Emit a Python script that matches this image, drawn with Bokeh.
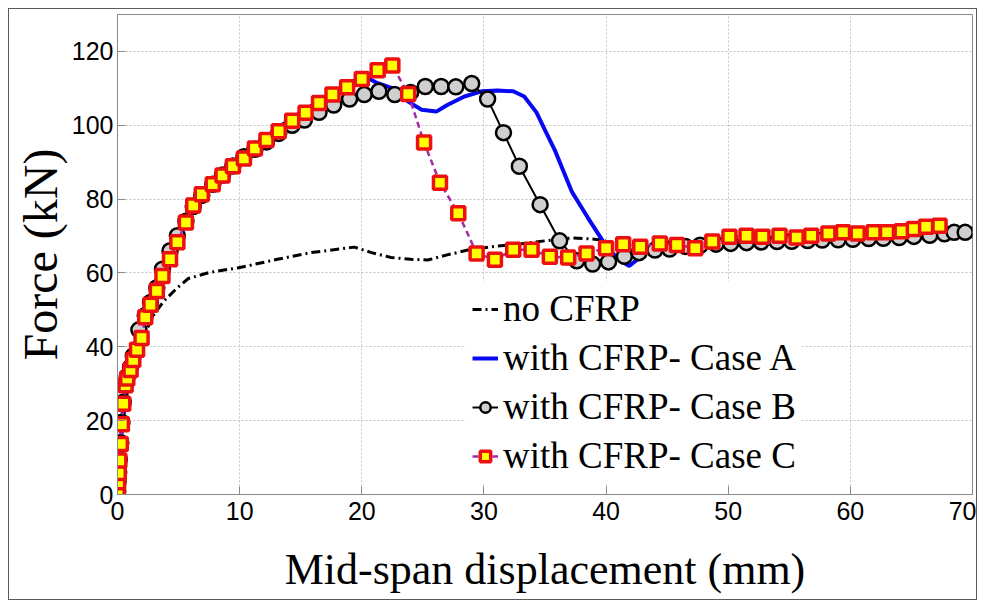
from bokeh.plotting import figure
from bokeh.models import Range1d, FixedTicker, Legend, LegendItem
from bokeh.embed import file_html
from bokeh.resources import INLINE

# ---------------- data ----------------
x_ticks = [0, 10, 20, 30, 40, 50, 60, 70]
y_ticks = [0, 20, 40, 60, 80, 100, 120]

no_cfrp_x = [0, 0.3, 0.7, 1.07, 1.48, 1.9, 2.44, 2.98, 3.8, 4.9, 5.8, 7.6, 9.9, 13.1, 15.8,
             19.4, 20.8, 22.4, 24.0, 25.4, 27.0, 28.7, 30.6, 32.8, 35.0, 37.2, 38.8, 40.0]
no_cfrp_y = [0, 15, 26, 31.4, 36, 40.5, 45, 48.7, 52.4, 56, 58.5, 60.2, 61.4, 63.7, 65.5,
             67.0, 65.5, 64.2, 63.7, 63.5, 64.9, 66.2, 67.1, 67.8, 68.7, 69.5, 69.2, 68.8]

case_a_x = [0, 0.1, 0.27, 0.47, 0.8, 1.29, 1.97, 2.7, 3.68, 4.9, 6.2, 7.8, 9.45, 11.25, 13.2,
            15.0, 17.0, 19.0, 20.2, 21.3, 22.9, 23.8, 24.9, 26.1, 27.0, 28.4, 29.8, 31.1, 32.4,
            33.3, 34.3, 35.0, 35.8, 37.2, 38.5, 39.9, 41.0, 41.9, 43.1, 44.0, 46.0, 50.0, 55.0,
            60.0, 65.0, 69.0]
case_a_y = [0, 6, 14, 25, 32, 37, 43.5, 52, 60, 69, 78.5, 84.5, 89.5, 94.5, 99.5,
            103.5, 107.5, 111.5, 113.3, 111.4, 109.6, 106.4, 104.2, 103.7, 105.5, 107.8, 109.2, 109.4, 109.2,
            107.8, 103.5, 98.7, 93.3, 82.0, 75.0, 67.8, 63.7, 61.9, 65.1, 66.8, 67.0, 68.0, 68.8,
            69.5, 70.3, 71.0]

case_b_x = [0, 0.02, 0.05, 0.1, 0.15, 0.27, 0.36, 0.47, 0.66, 0.8, 1.07, 1.29, 1.75, 2.27, 2.7,
            3.22, 3.68, 4.3, 4.9, 5.6, 6.2, 6.9, 7.8, 8.6, 9.45, 10.35, 11.25, 12.2, 13.2, 14.3,
            15.3, 16.5, 17.7, 19.0, 20.2, 21.4, 22.7, 24.0, 25.2, 26.5, 27.7, 29.0, 30.3, 31.6,
            32.9, 34.6, 36.2, 37.6, 38.9, 40.2, 41.5, 42.7, 44.0, 45.2, 46.5, 47.7, 49.0, 50.2,
            51.5, 52.7, 54.0, 55.2, 56.5, 57.7, 59.0, 60.2, 61.5, 62.7, 64.0, 65.2, 66.5, 67.7,
            68.5, 69.4]
case_b_y = [0, 1.0, 3.5, 6, 9.5, 14, 19.5, 25, 30, 32, 34.5, 37.5, 44.6, 48.5, 52,
            56, 61, 66, 70.1, 74, 78, 81, 84, 86.5, 89, 91.5, 93.5, 95.5, 97.8, 100,
            101.4, 103.5, 105.5, 107.1, 108.3, 109.2, 108.3, 108.9, 110.5, 110.5, 110.4, 111.3, 107.1, 98.0,
            88.9, 78.5, 68.7, 63.3, 62.4, 63.0, 64.5, 65.5, 66.2, 66.5, 67.2, 67.5, 67.8, 68.0,
            68.2, 68.4, 68.5, 68.6, 68.8, 68.9, 69.0, 69.1, 69.3, 69.4, 69.6, 69.9, 70.2, 70.6,
            71.0, 71.0]

case_c_x = [0, 0.02, 0.05, 0.1, 0.15, 0.27, 0.36, 0.47, 0.66, 0.8, 1.07, 1.29, 1.6, 1.97, 2.27,
            2.7, 3.22, 3.68, 4.3, 4.9, 5.6, 6.2, 6.9, 7.8, 8.6, 9.45, 10.35, 11.25, 12.2, 13.2,
            14.3, 15.4, 16.5, 17.6, 18.8, 20.0, 21.3, 22.5, 23.8, 25.1, 26.4, 27.9, 29.4, 30.9,
            32.4, 33.9, 35.4, 36.9, 38.4, 40.0, 41.4, 42.8, 44.4, 45.8, 47.3, 48.7, 50.1, 51.5,
            52.8, 54.2, 55.6, 56.8, 58.2, 59.4, 60.6, 61.9, 63.0, 64.2, 65.2, 66.2, 67.3]
case_c_y = [0, 1.0, 3.3, 5.8, 9.2, 13.7, 19.0, 24.6, 29.6, 31.4, 33.7, 36.4, 39.2, 42.4, 48.0,
            51.4, 55.1, 59.2, 63.7, 68.3, 73.7, 78.3, 81.3, 84.0, 86.4, 88.9, 91.0, 93.7, 96.0, 98.4,
            101.2, 103.4, 106.0, 108.3, 110.3, 112.5, 114.9, 116.2, 108.5, 95.3, 84.4, 76.2, 65.3, 63.6,
            66.3, 66.3, 64.4, 64.2, 65.3, 66.7, 67.8, 67.1, 68.0, 67.6, 66.7, 68.5, 69.8, 70.1,
            69.8, 70.1, 69.6, 70.1, 70.7, 71.0, 70.7, 71.0, 71.0, 71.3, 71.9, 72.5, 72.8]

series_labels = ["no CFRP", "with CFRP- Case A", "with CFRP- Case B", "with CFRP- Case C"]

# ---------------- figure ----------------
p = figure(width=967, height=590, x_range=Range1d(0, 70), y_range=Range1d(0, 130),
           output_backend="svg", toolbar_location=None,
           min_border_left=108, min_border_right=6, min_border_top=5, min_border_bottom=107)
p.styles = {"margin-left": "8px", "margin-top": "8px",
            "border": "1px solid #5a5a5a", "box-sizing": "content-box"}
p.background_fill_color = "white"
p.border_fill_color = "white"
p.outline_line_color = "#8a8a8a"
p.outline_line_width = 1

for ax in (p.xaxis[0], p.yaxis[0]):
    ax.axis_line_color = "#8a8a8a"
    ax.major_tick_line_color = "#8a8a8a"
    ax.major_tick_in = 8
    ax.major_tick_out = 0
    ax.minor_tick_line_color = None
    ax.major_label_text_font = "Liberation Sans"
    ax.major_label_text_font_size = "25px"
    ax.major_label_text_color = "black"
    ax.axis_label_text_font = "Liberation Serif"
    ax.axis_label_text_font_style = "normal"
    ax.axis_label_text_color = "black"

p.xaxis[0].ticker = FixedTicker(ticks=x_ticks)
p.yaxis[0].ticker = FixedTicker(ticks=y_ticks)
p.xaxis[0].axis_label = "Mid-span displacement (mm)"
p.yaxis[0].axis_label = "Force (kN)"
p.xaxis[0].axis_label_text_font_size = "44px"
p.yaxis[0].axis_label_text_font_size = "48px"
p.xaxis[0].major_label_standoff = 7
p.yaxis[0].major_label_standoff = 4
p.xaxis[0].axis_label_standoff = 22
p.yaxis[0].axis_label_standoff = 2

for g in (p.xgrid[0], p.ygrid[0]):
    g.grid_line_color = "#c4c4c4"
    g.grid_line_dash = "2 2"
    g.grid_line_width = 1
p.xgrid[0].ticker = FixedTicker(ticks=x_ticks)
p.ygrid[0].ticker = FixedTicker(ticks=y_ticks)

# ---------------- series ----------------
r0 = p.line(no_cfrp_x, no_cfrp_y, line_color="black", line_width=3, line_dash="9 4 2 4")
r1 = p.line(case_a_x, case_a_y, line_color="#0808f2", line_width=4)
r2l = p.line(case_b_x, case_b_y, line_color="black", line_width=2)
r2m = p.scatter(case_b_x, case_b_y, marker="circle", size=15, fill_color="#cfcfcf",
                line_color="black", line_width=2.5)
r3l = p.line(case_c_x, case_c_y, line_color="#a52aa5", line_width=2.5, line_dash="6 4")
r3m = p.scatter(case_c_x, case_c_y, marker="square", size=13, fill_color="#ffff00",
                line_color="#ee1010", line_width=3.5)

legend = Legend(items=[
    LegendItem(label=series_labels[0], renderers=[r0]),
    LegendItem(label=series_labels[1], renderers=[r1]),
    LegendItem(label=series_labels[2], renderers=[r2l, r2m]),
    LegendItem(label=series_labels[3], renderers=[r3l, r3m]),
], location=(349, 11))
legend.label_text_font = "Liberation Serif"
legend.label_text_font_size = "37px"
legend.label_text_color = "black"
legend.glyph_width = 26
legend.glyph_height = 42
legend.label_height = 42
legend.spacing = 6
legend.padding = 6
legend.margin = 0
legend.label_standoff = 5
legend.border_line_alpha = 0
legend.background_fill_color = "white"
legend.background_fill_alpha = 1
p.add_layout(legend, "center")

open("out.html", "w").write(file_html(p, INLINE))
